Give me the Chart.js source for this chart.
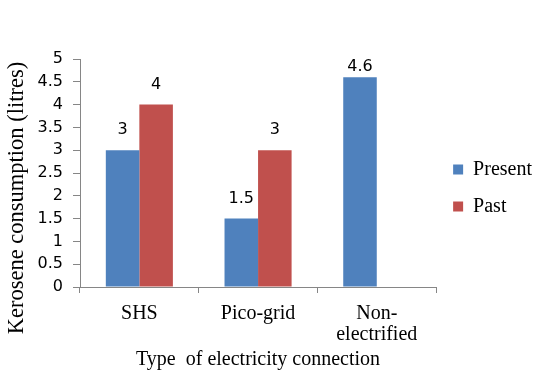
<!DOCTYPE html>
<html>
<head>
<meta charset="utf-8">
<script src="https://cdn.jsdelivr.net/npm/chart.js@4"></script>
<style>
  body { margin: 0; background: #fff; }
</style>
</head>
<body>
<canvas id="myChart" width="550" height="376"></canvas>
<script>
  var categories = ["SHS", "Pico-grid", ["Non-", "electrified"]];
  var presentValues = [3, 1.5, 4.6];
  var pastValues = [4, 3, null];
  var seriesNames = ["Present", "Past"];
  var barColors = ["#4F81BD", "#C0504D"];
  var yTitle = "Kerosene consumption (litres)";
  var xTitle = "Type  of electricity connection";

  var axisGray = "#868686";
  var numFont = "DejaVu Sans";

  // value labels over each bar + the y title (drawn a bit lower than centre, like the original)
  var barLabels = {
    id: "barLabels",
    afterDatasetsDraw: chart => {
      var ctx = chart.ctx;
      ctx.save();
      ctx.font = "16px '" + numFont + "'";
      ctx.fillStyle = "#000";
      ctx.textAlign = "center";
      ctx.textBaseline = "middle";
      chart.data.datasets.forEach((ds, i) => {
        chart.getDatasetMeta(i).data.forEach((bar, j) => {
          if (ds.data[j] == null) return;
          var y = Math.max(bar.y - 20, chart.chartArea.top + 8);
          ctx.fillText(String(ds.data[j]), bar.x, y);
        });
      });

      var yScale = chart.scales.y;
      ctx.font = "22.5px 'Liberation Serif'";
      ctx.translate(yScale.left + 17, (chart.chartArea.top + chart.chartArea.bottom) / 2 + 25);
      ctx.rotate(-Math.PI / 2);
      ctx.fillText(yTitle, 0, 0);
      ctx.restore();
    }
  };

  Chart.defaults.font.family = "Liberation Serif";
  Chart.defaults.color = "#000";

  new Chart("myChart", {
    type: "bar",
    data: {
      labels: categories,
      datasets: [{
        label: seriesNames[0],
        data: presentValues,
        backgroundColor: barColors[0],
        borderWidth: 0
      }, {
        label: seriesNames[1],
        data: pastValues,
        backgroundColor: barColors[1],
        borderWidth: 0
      }]
    },
    options: {
      responsive: false,
      animation: false,
      devicePixelRatio: 1,
      categoryPercentage: 0.565,
      barPercentage: 1,
      layout: { padding: { left: 0, right: 8, top: 0, bottom: 0 } },
      plugins: {
        title: {
          display: true,
          text: "",
          font: { size: 1, lineHeight: 1 },
          padding: { top: 58, bottom: 0 }
        },
        legend: {
          position: "right",
          labels: {
            boxWidth: 10,
            boxHeight: 10,
            padding: 17,
            font: { size: 20, family: "Liberation Serif" },
            color: "#000"
          }
        },
        tooltip: { enabled: false }
      },
      scales: {
        x: {
          afterFit: s => { s.height = 89; },
          grid: {
            offset: true,
            drawOnChartArea: false,
            drawTicks: true,
            tickLength: 6,
            color: axisGray
          },
          border: { color: axisGray, width: 1 },
          ticks: {
            padding: 10,
            maxRotation: 0,
            font: { size: 20, family: "Liberation Serif", lineHeight: 1.05 },
            color: "#000"
          },
          title: {
            display: true,
            text: xTitle,
            font: { size: 20, family: "Liberation Serif" },
            padding: { top: 0, bottom: 4 },
            color: "#000"
          }
        },
        y: {
          min: 0,
          max: 5,
          afterFit: s => { s.width = 80; },
          grid: {
            drawOnChartArea: false,
            drawTicks: true,
            tickLength: 7,
            color: axisGray
          },
          border: { color: axisGray, width: 1 },
          ticks: {
            stepSize: 0.5,
            padding: 10,
            callback: v => String(Number(v.toFixed(1))),
            font: { size: 16, family: numFont },
            color: "#000"
          }
        }
      }
    },
    plugins: [barLabels]
  });
</script>
</body>
</html>
